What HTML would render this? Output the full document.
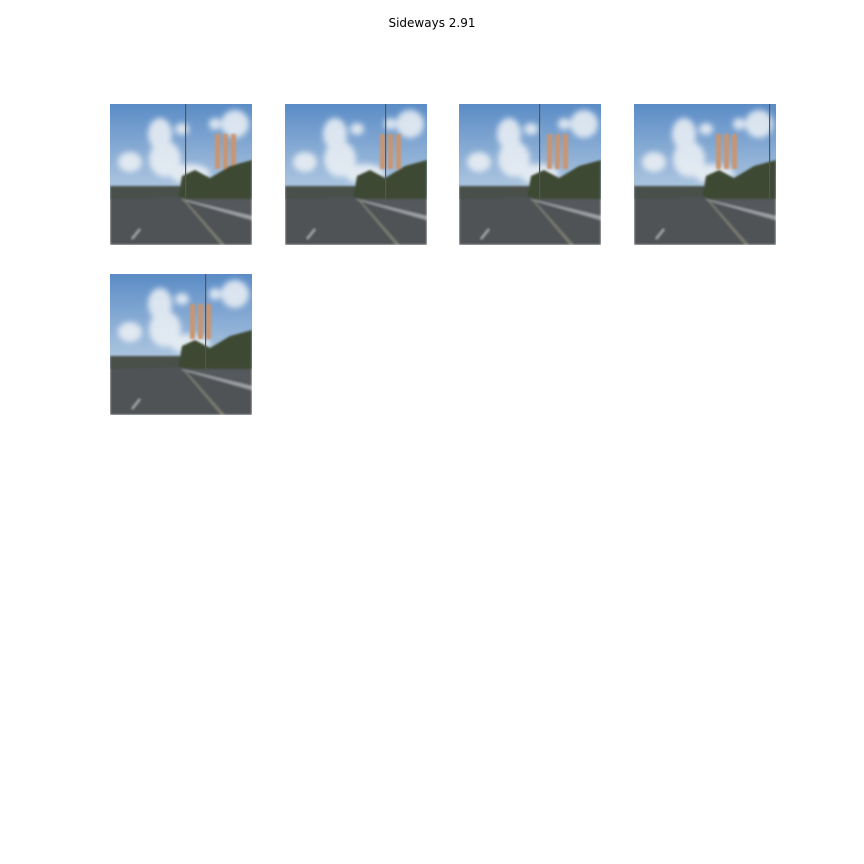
<!DOCTYPE html>
<html><head><meta charset="utf-8">
<style>
html,body{margin:0;padding:0;background:#fff;}
#fig{position:relative;width:864px;height:864px;background:#fff;font-family:"Liberation Sans","DejaVu Sans",sans-serif;}
#title{position:absolute;top:16px;left:0;width:864px;text-align:center;font-size:12px;color:#000;font-family:"DejaVu Sans","Liberation Sans",sans-serif;}
.frame{position:absolute;width:142px;height:141px;}
</style></head>
<body>
<div id="fig">
<div id="title">Sideways 2.91</div>
</div>
<script>
const frameLefts=[110,285,459,634,110];
const frameTops=[104,104,104,104,274];
const bannerX=[105,95,88,82,80];
const poleX=[75,100,80,135,95];
const fig=document.getElementById('fig');
for(let i=0;i<5;i++){
  const d=document.createElement('div');
  d.className='frame';
  d.style.left=frameLefts[i]+'px';d.style.top=frameTops[i]+'px';
  
  
  const bx=bannerX[i], px=poleX[i];
  d.innerHTML=`<svg width="142" height="141" viewBox="0 0 142 141">
<defs><linearGradient id="sky${i}" x1="0" y1="0" x2="0" y2="1">
<stop offset="0" stop-color="#5b8cc6"/><stop offset="1" stop-color="#b7cde3"/></linearGradient>
<filter id="bl${i}"><feGaussianBlur stdDeviation="3"/></filter>
<filter id="bs${i}"><feGaussianBlur stdDeviation="1"/></filter></defs>
<rect width="142" height="95" fill="url(#sky${i})"/>
<g fill="#eef2f6" opacity="0.85" filter="url(#bl${i})">
<ellipse cx="50" cy="30" rx="12" ry="16"/><ellipse cx="55" cy="55" rx="16" ry="18"/>
<ellipse cx="72" cy="25" rx="7" ry="6"/><ellipse cx="20" cy="58" rx="12" ry="10"/>
<ellipse cx="125" cy="20" rx="14" ry="14"/><ellipse cx="105" cy="20" rx="6" ry="6"/>
<ellipse cx="80" cy="70" rx="20" ry="10"/></g>
<g filter="url(#bs${i})">
<rect x="0" y="82" width="70" height="13" fill="#4a5048"/>
<rect x="${bx}" y="30" width="5" height="35" fill="#c99570"/>
<rect x="${bx+8}" y="30" width="5" height="35" fill="#c99570"/>
<rect x="${bx+16}" y="30" width="5" height="35" fill="#c99570"/>
<path d="M68 95 L72 72 L85 66 L100 74 L120 62 L142 56 L142 115 L100 100 Z" fill="#3c4a33"/>
<path d="M0 95 L142 95 L142 141 L0 141 Z" fill="#55585c"/>
<path d="M0 95 L70 93 L142 118 L142 141 L0 141 Z" fill="#4f5256"/>
<path d="M72 95 L142 112 L142 116 L72 96 Z" fill="#9ea2a5"/>
<path d="M75 96 L115 141 L111 141 L73 96 Z" fill="#7d7d72"/>
<path d="M30 125 L22 135" stroke="#aaa" stroke-width="2"/>
</g>
<rect x="${px}" y="0" width="1.2" height="95" fill="#555"/>
</svg>`;
  fig.appendChild(d);
}
</script>
</body></html>
